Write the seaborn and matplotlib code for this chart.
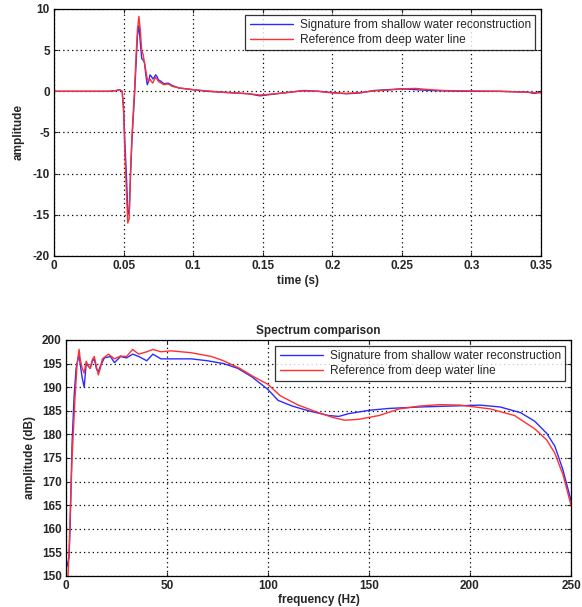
import matplotlib
matplotlib.use("Agg")
import matplotlib.pyplot as plt
import seaborn as sns
import pandas as pd

# ---- time-domain signatures ----
t_blue = [0.0, 0.02, 0.04, 0.045, 0.047, 0.049, 0.050, 0.051, 0.052, 0.053, 0.054, 0.055, 0.056,
          0.057, 0.058, 0.059, 0.060, 0.061, 0.062, 0.063, 0.064, 0.065, 0.066, 0.067, 0.068,
          0.069, 0.070, 0.071, 0.072, 0.073, 0.074, 0.075, 0.077, 0.079, 0.082, 0.085, 0.09,
          0.10, 0.11, 0.12, 0.13, 0.14, 0.148, 0.155, 0.165, 0.175, 0.18, 0.19, 0.20, 0.21,
          0.22, 0.23, 0.24, 0.25, 0.26, 0.27, 0.28, 0.30, 0.32, 0.34, 0.345, 0.35]
a_blue = [0.0, 0.0, 0.0, 0.1, 0.2, 0.0, -2.0, -6.5, -10.0, -14.5, -15.0, -10.0, -6.0,
          -3.0, 0.0, 3.5, 6.8, 8.0, 6.0, 4.0, 3.8, 3.5, 2.0, 0.8, 1.2,
          2.0, 1.8, 1.5, 1.7, 2.0, 1.8, 1.4, 1.2, 0.9, 1.0, 0.7, 0.4,
          0.2, 0.0, -0.1, -0.2, -0.3, -0.55, -0.4, -0.2, 0.0, 0.1, 0.0, -0.15, -0.3,
          -0.2, 0.1, 0.2, 0.3, 0.2, 0.1, 0.05, 0.0, 0.0, -0.1, -0.25, -0.1]

t_red = [0.0, 0.02, 0.04, 0.045, 0.047, 0.049, 0.050, 0.051, 0.052, 0.053, 0.054, 0.055, 0.056,
         0.057, 0.058, 0.059, 0.060, 0.061, 0.062, 0.063, 0.064, 0.065, 0.066, 0.067, 0.068,
         0.069, 0.070, 0.071, 0.072, 0.073, 0.074, 0.075, 0.077, 0.079, 0.082, 0.085, 0.09,
         0.10, 0.11, 0.12, 0.13, 0.14, 0.148, 0.155, 0.165, 0.175, 0.18, 0.19, 0.20, 0.21,
         0.22, 0.23, 0.24, 0.25, 0.26, 0.27, 0.28, 0.30, 0.32, 0.34, 0.345, 0.35]
a_red = [0.0, 0.0, 0.0, 0.1, 0.2, 0.0, -2.5, -8.0, -12.0, -16.0, -15.5, -10.0, -5.5,
         -2.5, 0.5, 4.5, 7.5, 9.1, 7.5, 5.0, 4.5, 3.5, 2.5, 1.5, 1.2,
         1.5, 1.2, 1.0, 1.4, 1.7, 1.5, 1.2, 1.0, 0.8, 0.9, 0.6, 0.4,
         0.2, 0.05, -0.1, -0.2, -0.3, -0.45, -0.35, -0.2, 0.0, 0.05, 0.0, -0.2, -0.25,
         -0.15, 0.05, 0.15, 0.3, 0.35, 0.2, 0.1, 0.05, 0.0, -0.1, -0.15, -0.2]

# ---- spectra ----
f_blue = [0.5, 1.5, 2, 3, 4, 5, 6, 6.5, 7, 8, 9, 10, 11, 12, 13, 14, 15, 16, 17, 19, 22, 24, 27,
          30, 33, 36, 40, 43, 47, 55, 62, 70, 78, 85, 92, 100, 105, 112, 120, 130, 135,
          140, 150, 160, 175, 190, 205, 215, 225, 232, 238, 242, 246, 250]
s_blue = [152, 154, 160, 178, 188, 194, 196, 197, 195, 192, 190, 195, 194.5, 194, 195.5, 196, 194, 193.2,
          194.5, 196.2, 196.5, 195.2, 196.5, 196.2, 197.0, 196.5, 195.6, 197.0, 196.0, 196.0,
          196.0, 195.6, 195.0, 194.0, 192.2, 189.5, 187.2, 186.0, 185.0, 184.0, 183.8,
          184.4, 185.1, 185.5, 185.8, 186.0, 186.2, 185.8, 184.6, 182.8, 180.2, 177.5, 172.5, 166]

f_red = [1, 1.5, 2, 3, 4.5, 5.5, 6.5, 7, 8, 9, 10, 11, 12, 13, 14, 15, 16, 17, 18, 21, 24, 27,
         30, 33, 36, 40, 43, 47, 52, 62, 72, 78, 86, 93, 100, 106, 115, 125, 132, 138, 145,
         155, 165, 175, 185, 195, 210, 222, 232, 238, 242, 246, 250]
s_red = [150, 155, 162, 175, 188, 195, 198, 196, 194, 193, 195.5, 194.5, 194.0, 195.8, 196.5, 194.5, 192.6,
         194.0, 196.0, 197.0, 196.0, 196.6, 196.5, 198.0, 197.0, 197.5, 198.0, 197.5, 197.7,
         197.3, 196.5, 195.6, 194.0, 192.2, 190.6, 188.2, 186.2, 184.6, 183.6, 183.0, 183.2,
         184.0, 185.4, 186.0, 186.3, 186.2, 185.4, 184.0, 181.2, 178.8, 176.0, 171.5, 165]

lab_blue = "Signature from shallow water reconstruction"
lab_red = "Reference from deep water line"

sns.set_style("white")
plt.rcParams["font.family"] = ["Liberation Sans", "DejaVu Sans"]
plt.rcParams["axes.unicode_minus"] = False

df_t = pd.concat([
    pd.DataFrame({"t": t_blue, "a": a_blue, "series": lab_blue}),
    pd.DataFrame({"t": t_red, "a": a_red, "series": lab_red}),
])
df_f = pd.concat([
    pd.DataFrame({"f": f_blue, "s": s_blue, "series": lab_blue}),
    pd.DataFrame({"f": f_red, "s": s_red, "series": lab_red}),
])
palette = {lab_blue: "#2b2bff", lab_red: "#ff3030"}

fig = plt.figure(figsize=(5.82, 6.07), dpi=100)
ax1 = fig.add_axes([0.0928, 0.5783, 0.8368, 0.4069])
ax2 = fig.add_axes([0.1134, 0.0511, 0.8677, 0.3888])

sns.lineplot(data=df_t, x="t", y="a", hue="series", palette=palette, ax=ax1,
             linewidth=1.0, sort=False, estimator=None)
sns.lineplot(data=df_f, x="f", y="s", hue="series", palette=palette, ax=ax2,
             linewidth=1.0, sort=False, estimator=None)

ax1.set_xlim(0, 0.35)
ax1.set_ylim(-20, 10)
ax1.set_xticks([0, 0.05, 0.1, 0.15, 0.2, 0.25, 0.3, 0.35])
ax1.set_xticklabels(["0", "0.05", "0.1", "0.15", "0.2", "0.25", "0.3", "0.35"])
ax1.set_yticks([-20, -15, -10, -5, 0, 5, 10])
ax1.set_xlabel("time (s)", fontsize=8.5, fontweight="bold", labelpad=2)
ax1.set_ylabel("amplitude", fontsize=8.5, fontweight="bold", labelpad=6)

ax2.set_xlim(0, 250)
ax2.set_ylim(150, 200)
ax2.set_xticks([0, 50, 100, 150, 200, 250])
ax2.set_yticks(list(range(150, 201, 5)))
ax2.set_xlabel("frequency (Hz)", fontsize=8.5, fontweight="bold", labelpad=1)
ax2.set_ylabel("amplitude (dB)", fontsize=8.5, fontweight="bold", labelpad=4)
ax2.set_title("Spectrum comparison", fontsize=8.5, fontweight="bold", pad=4)

for ax in (ax1, ax2):
    ax.grid(True, color="black", linestyle=(0, (1, 2.5)), linewidth=0.9)
    ax.tick_params(axis="both", labelsize=8.5, direction="in", length=3, pad=3,
                   top=True, right=True, bottom=True, left=True)
    for lbl in ax.get_xticklabels() + ax.get_yticklabels():
        lbl.set_fontweight("bold")
    for sp in ax.spines.values():
        sp.set_color("black")
        sp.set_linewidth(0.9)
    leg = ax.legend(loc="upper right", fontsize=8.6, frameon=True, fancybox=False,
                    borderpad=0.35, labelspacing=0.25, handlelength=3.6, handletextpad=0.6,
                    borderaxespad=0.5)
    leg.get_frame().set_edgecolor("black")
    leg.get_frame().set_linewidth(0.9)

fig.savefig("out.png", dpi=100)
